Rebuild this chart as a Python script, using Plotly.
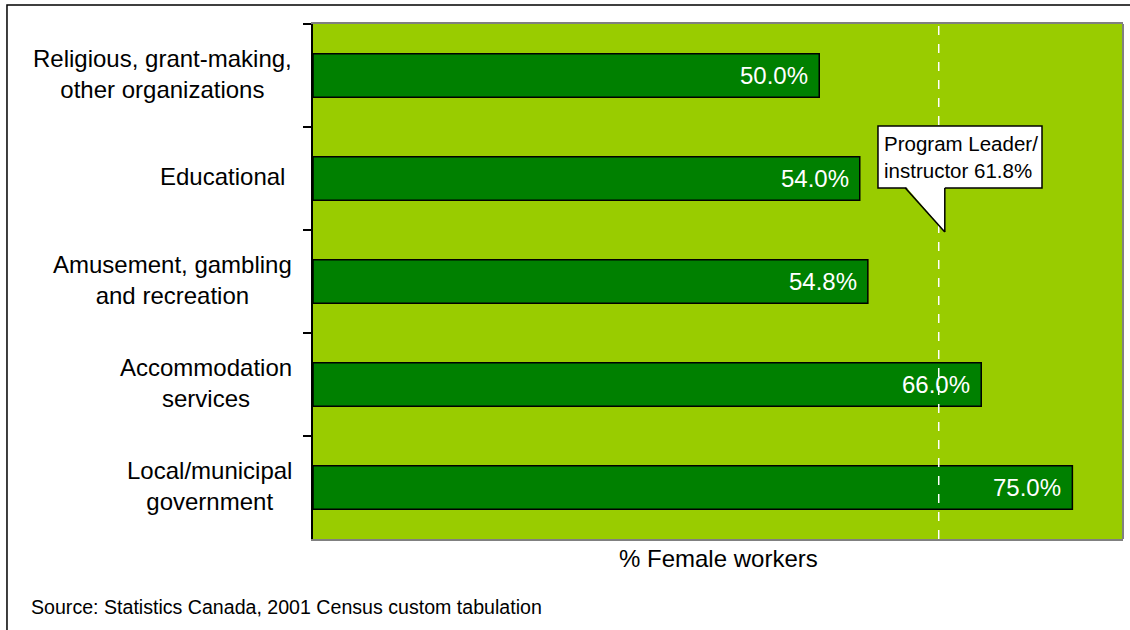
import plotly.graph_objects as go

# Share of female workers by industry (top to bottom)
categories = [
    "Religious, grant-making,<br>other organizations",
    "Educational ",
    "Amusement, gambling<br>and recreation",
    "Accommodation<br>services",
    "Local/municipal<br>government",
]
female_pct = [50.0, 54.0, 54.8, 66.0, 75.0]

# Reference line for program leaders / instructors
leader_label = "Program Leader/<br>instructor 61.8%"
leader_pct = 61.8

axis_title = "% Female workers"
source_note = "Source: Statistics Canada, 2001 Census custom tabulation"

FONT = "Arial, Liberation Sans, sans-serif"
BG_GREEN = "#99CC00"
BAR_GREEN = "#008000"

fig = go.Figure()

fig.add_trace(go.Bar(
    x=female_pct,
    y=categories,
    orientation="h",
    width=0.42,
    marker=dict(color=BAR_GREEN, line=dict(color="black", width=1.5)),
    hoverinfo="skip",
    showlegend=False,
))

annotations = []

# Value labels inside the end of each bar
for cat, val in zip(categories, female_pct):
    annotations.append(dict(
        x=val, y=cat, xref="x", yref="y",
        text=f"{val:.1f}%", showarrow=False,
        xanchor="right", yanchor="middle", xshift=-9,
        font=dict(family=FONT, size=24, color="white"),
    ))

# Centred, multi-line category labels left of the axis
for cat in categories:
    annotations.append(dict(
        x=0, y=cat, xref="paper", yref="y",
        text=cat, showarrow=False, align="center",
        xanchor="right", yanchor="middle", xshift=-19, yshift=2,
        font=dict(family=FONT, size=24, color="black"),
    ))

# Axis title and source note
annotations.append(dict(
    x=0.5, y=0, xref="paper", yref="paper", text=axis_title,
    showarrow=False, xanchor="center", yanchor="top", yshift=-4,
    font=dict(family=FONT, size=24, color="black"),
))
annotations.append(dict(
    x=-0.351, y=-0.107, xref="paper", yref="paper", text=source_note,
    showarrow=False, xanchor="left", yanchor="top",
    font=dict(family=FONT, size=19.6, color="black"),
))

# Callout box geometry (x in data units around the leader value, y in paper units)
box_x0, box_x1 = leader_pct - 6.0, leader_pct + 10.2
box_y0, box_y1 = 0.6816, 0.802
wedge_x0, wedge_x1 = leader_pct - 3.3, leader_pct + 0.6
tip_x, tip_y = leader_pct + 0.6, 0.596

annotations.append(dict(
    x=box_x0, y=(box_y0 + box_y1) / 2, xref="x", yref="paper",
    text=leader_label, showarrow=False, align="left",
    xanchor="left", yanchor="middle", xshift=4,
    font=dict(family=FONT, size=20.5, color="black"),
))

shapes = [
    # right edge of the plot frame
    dict(type="line", xref="paper", yref="paper", x0=1, x1=1, y0=0, y1=1,
         line=dict(color="#808080", width=2)),
    # dashed reference line
    dict(type="line", xref="x", yref="paper", x0=leader_pct, x1=leader_pct,
         y0=0, y1=1, line=dict(color="white", width=1.5, dash="dash")),
    # callout box
    dict(type="rect", xref="x", yref="paper", x0=box_x0, x1=box_x1,
         y0=box_y0, y1=box_y1, fillcolor="white",
         line=dict(color="black", width=1.5)),
    # callout pointer (fill then outline edges)
    dict(type="path", xref="x", yref="paper",
         path=f"M {wedge_x0} {box_y0 + 0.004} L {wedge_x1} {box_y0 + 0.004} L {tip_x} {tip_y} Z",
         fillcolor="white", line=dict(width=0)),
    dict(type="line", xref="x", yref="paper", x0=wedge_x0, x1=tip_x,
         y0=box_y0, y1=tip_y, line=dict(color="black", width=1.5)),
    dict(type="line", xref="x", yref="paper", x0=wedge_x1, x1=tip_x,
         y0=box_y0, y1=tip_y, line=dict(color="black", width=1.5)),
    # outer frame of the figure
    dict(type="rect", xref="paper", yref="paper", x0=-0.3778, x1=1.05,
         y0=-0.3, y1=1.0369, line=dict(color="black", width=1.5),
         fillcolor="rgba(0,0,0,0)"),
]

fig.update_layout(
    width=1130, height=630,
    margin=dict(l=313, r=7, t=24, b=91),
    paper_bgcolor="white",
    plot_bgcolor=BG_GREEN,
    font=dict(family=FONT, size=20, color="black"),
    xaxis=dict(range=[0, 80], showgrid=False, zeroline=False,
               showticklabels=False, ticks="",
               showline=True, linecolor="#808080", linewidth=2, mirror=True),
    yaxis=dict(autorange="reversed", showgrid=False, zeroline=False,
               showticklabels=False, ticks="outside", tickson="boundaries",
               ticklen=8, tickcolor="black", tickwidth=1.5,
               showline=True, linecolor="black", linewidth=1.5),
    annotations=annotations,
    shapes=shapes,
    bargap=0.58,
)

fig.write_html("out.html")
